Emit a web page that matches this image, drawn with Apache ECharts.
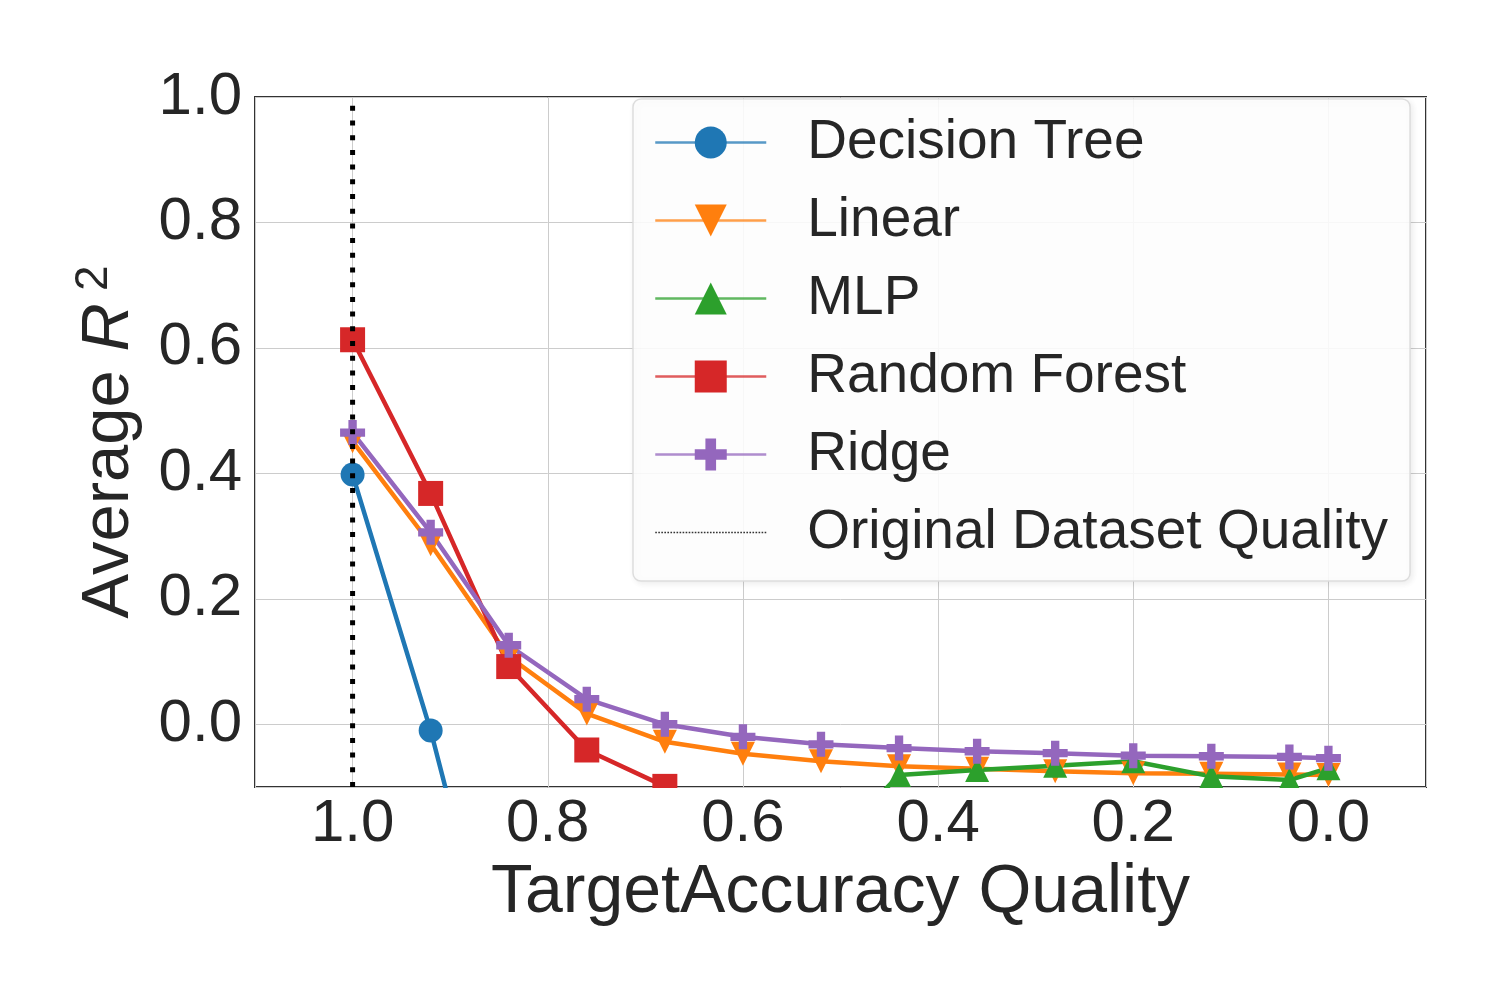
<!DOCTYPE html>
<html>
<head>
<meta charset="utf-8">
<script src="https://cdn.jsdelivr.net/npm/echarts@6/dist/echarts.min.js"></script>
<style>
html,body{margin:0;padding:0;background:#fff;}
#chart{width:1500px;height:1000px;}
</style>
</head>
<body>
<div id="chart"></div>
<script>
// ---- data ----
const quality = [1.0, 0.92, 0.84, 0.76, 0.68, 0.6, 0.52, 0.44, 0.36, 0.28, 0.2, 0.12, 0.04, 0.0];
const decisionTree = [0.398, -0.010, -0.49, -0.62, -0.70, -0.75, -0.78, -0.80, -0.82, -0.83, -0.84, -0.85, -0.85, -0.86];
const linear = [0.451, 0.287, 0.108, 0.017, -0.028, -0.047, -0.059, -0.067, -0.071, -0.075, -0.078, -0.079, -0.080, -0.081];
const mlp = [-0.62, -0.50, -0.42, -0.35, -0.29, -0.25, -0.21, -0.081, -0.073, -0.066, -0.059, -0.083, -0.089, -0.070];
const randomForest = [0.613, 0.368, 0.092, -0.041, -0.099, -0.16, -0.19, -0.21, -0.22, -0.23, -0.24, -0.24, -0.25, -0.25];
const ridge = [0.465, 0.306, 0.126, 0.040, 0.000, -0.020, -0.032, -0.038, -0.043, -0.046, -0.050, -0.051, -0.052, -0.054];
const originalQuality = 1.0;
const yRange = [-0.1, 1.0];
const xRange = [-0.1, 1.1];
const seriesNames = ['Decision Tree', 'Linear', 'MLP', 'Random Forest', 'Ridge', 'Original Dataset Quality'];

// ---- styles ----
const colors = ['#1f77b4', '#ff7f0e', '#2ca02c', '#d62728', '#9467bd'];
const plusPath = 'path://M1,0H2V1H3V2H2V3H1V2H0V1H1Z';
const textColor = '#262626';
const FONT = '"Liberation Sans", Arial, Helvetica, sans-serif';
const G = {left: 255, top: 97, width: 1171, height: 690};

// thin dotted legend icon (small squares along a 111-unit strip)
let dotPath = 'path://';
for (let k = 0; k < 37; k++) { dotPath += 'M' + (k * 3) + ',0h1.6v1.6h-1.6z'; }

function pairs(vals) { return quality.map((q, i) => [q, vals[i]]); }

function lineSeries(name, vals, color, symbol, size, rotate) {
  return {
    name: name, type: 'line', data: pairs(vals),
    symbol: symbol, symbolSize: size, symbolRotate: rotate || 0,
    showAllSymbol: true,
    lineStyle: {color: color, width: 4.5},
    itemStyle: {color: color},
    emphasis: {disabled: true},
    clip: true, z: 2
  };
}

const chart = echarts.init(document.getElementById('chart'), null, {renderer: 'canvas'});
const option = {
  animation: false,
  backgroundColor: '#ffffff',
  grid: {left: G.left, top: G.top, width: G.width, height: G.height, show: true,
         borderColor: '#333333', borderWidth: 2, backgroundColor: 'transparent'},
  xAxis: {
    type: 'value', min: xRange[0], max: xRange[1], inverse: true, splitNumber: 6,
    name: 'TargetAccuracy Quality', nameLocation: 'middle', nameGap: 68,
    nameTextStyle: {fontFamily: FONT, fontSize: 68, color: textColor},
    axisLine: {show: false}, axisTick: {show: false},
    axisLabel: {fontFamily: FONT, fontSize: 60, color: textColor, margin: 7,
      showMinLabel: false, showMaxLabel: false,
      formatter: v => (Math.abs(v) < 1e-9 ? 0 : v).toFixed(1)},
    splitLine: {show: true, lineStyle: {color: '#cccccc', width: 1}}
  },
  yAxis: {
    type: 'value', min: yRange[0], max: yRange[1], splitNumber: 5,
    name: '{a|Average }{i|R}{s|2}', nameLocation: 'middle', nameGap: 112, nameRotate: 90,
    nameTextStyle: {
      fontFamily: FONT, color: textColor,
      rich: {
        a: {fontFamily: FONT, fontSize: 67, lineHeight: 67, color: textColor, verticalAlign: 'bottom'},
        i: {fontFamily: FONT, fontSize: 67, lineHeight: 67, fontStyle: 'italic', color: textColor, verticalAlign: 'bottom'},
        s: {fontFamily: FONT, fontSize: 46, lineHeight: 46, color: textColor, verticalAlign: 'bottom', padding: [0, 0, 26, 12]}
      }
    },
    axisLine: {show: false}, axisTick: {show: false},
    axisLabel: {fontFamily: FONT, fontSize: 60, color: textColor, margin: 13,
      showMinLabel: false,
      formatter: v => (Math.abs(v) < 1e-9 ? 0 : v).toFixed(1)},
    splitLine: {show: true, lineStyle: {color: '#cccccc', width: 1}}
  },
  legend: {
    left: 633, top: 99, orient: 'vertical', itemWidth: 111, itemHeight: 40, itemGap: 23,
    padding: [16, 22, 21, 21],
    backgroundColor: 'rgba(255,255,255,0.88)', borderColor: '#dddddd', borderWidth: 1.5, borderRadius: 8,
    shadowBlur: 6, shadowColor: 'rgba(0,0,0,0.08)', shadowOffsetX: 2, shadowOffsetY: 2,
    textStyle: {fontFamily: FONT, fontSize: 55, color: textColor, padding: [0, 0, 0, 36]},
    lineStyle: {width: 2.5, opacity: 0.75},
    data: [
      {name: seriesNames[0]}, {name: seriesNames[1]}, {name: seriesNames[2]},
      {name: seriesNames[3]}, {name: seriesNames[4]},
      {name: seriesNames[5], icon: dotPath, itemStyle: {color: '#333333'}}
    ]
  },
  graphic: [{
    type: 'rect', z: 2.5, silent: true,
    shape: {x: G.left - 2, y: G.top + G.height + 1, width: G.width + 4, height: 11},
    style: {fill: '#ffffff'}
  }],
  series: [
    lineSeries(seriesNames[0], decisionTree, colors[0], 'circle', 24),
    lineSeries(seriesNames[1], linear, colors[1], 'triangle', 24, 180),
    lineSeries(seriesNames[2], mlp, colors[2], 'triangle', 24),
    lineSeries(seriesNames[3], randomForest, colors[3], 'rect', 25),
    lineSeries(seriesNames[4], ridge, colors[4], plusPath, 25),
    {
      name: seriesNames[5], type: 'line', symbol: 'none', z: 3,
      data: [[originalQuality, yRange[0]], [originalQuality, yRange[1]]],
      lineStyle: {color: '#000000', width: 5, type: [5, 9.7]},
      itemStyle: {color: '#000000'},
      emphasis: {disabled: true}
    }
  ]
};
chart.setOption(option);
</script>
</body>
</html>
